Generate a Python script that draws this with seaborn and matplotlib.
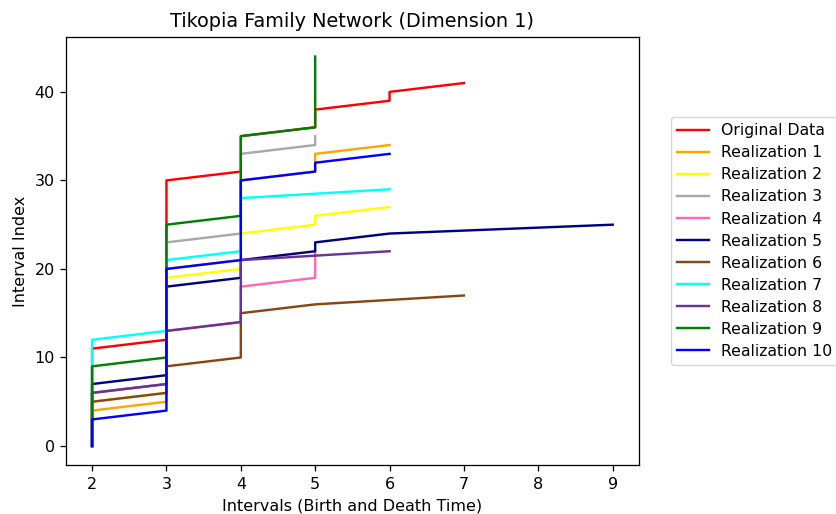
import numpy as np
import pandas as pd
import matplotlib
matplotlib.use("Agg")
import matplotlib.pyplot as plt
import seaborn as sns

# Time points (birth/death times) and how many sorted interval values fall on each
times = [2, 3, 4, 5, 6, 7, 9]

series_names = ["Original Data"] + [f"Realization {i}" for i in range(1, 11)]

original = [12, 19, 5, 3, 2, 1, 0]
real_1 = [5, 16, 10, 3, 1, 0, 0]
real_2 = [6, 14, 5, 2, 1, 0, 0]
real_3 = [7, 17, 10, 2, 0, 0, 0]
real_4 = [7, 7, 5, 4, 0, 0, 0]
real_5 = [8, 11, 3, 2, 1, 0, 1]
real_6 = [6, 4, 6, 1, 0, 1, 0]
real_7 = [13, 9, 7, 0, 1, 0, 0]
real_8 = [7, 7, 8, 0, 1, 0, 0]
real_9 = [10, 16, 10, 9, 0, 0, 0]
real_10 = [4, 17, 10, 2, 1, 0, 0]

counts = [original, real_1, real_2, real_3, real_4, real_5,
          real_6, real_7, real_8, real_9, real_10]

colors = ["red", "orange", "yellow", "darkgray", "hotpink", "navy",
          "saddlebrown", "cyan", "rebeccapurple", "green", "blue"]

rows = []
for name, cnt in zip(series_names, counts):
    xs = np.repeat(times, cnt)
    for i, xv in enumerate(xs):
        rows.append({"series": name, "x": xv, "idx": i})
df = pd.DataFrame(rows)

s = 1.155
plt.rcParams.update({
    "font.size": 10 * s,
    "axes.linewidth": 0.8 * s,
    "xtick.major.size": 3.5 * s,
    "ytick.major.size": 3.5 * s,
    "xtick.major.width": 0.8 * s,
    "ytick.major.width": 0.8 * s,
    "xtick.major.pad": 3.5 * s,
    "ytick.major.pad": 3.5 * s,
    "axes.labelpad": 4.0 * s,
    "axes.titlepad": 6.0 * s,
})

fig = plt.figure(figsize=(8.36, 5.14), dpi=100)
ax = fig.add_axes([0.079, 0.0944, 0.685, 0.8336])

sns.lineplot(data=df, x="x", y="idx", hue="series", hue_order=series_names,
             palette=dict(zip(series_names, colors)), sort=False,
             estimator=None, linewidth=1.5 * s, ax=ax)

handles, labels = ax.get_legend_handles_labels()
ax.get_legend().remove()
fig.legend(handles, labels, loc="upper left", bbox_to_anchor=(0.8026, 0.7724),
           borderaxespad=0, fontsize=11.3, labelspacing=0.45)

ax.set_title("Tikopia Family Network (Dimension 1)", fontsize=12 * s)
ax.set_xlabel("Intervals (Birth and Death Time)")
ax.set_ylabel("Interval Index")
ax.set_xticks([2, 3, 4, 5, 6, 7, 8, 9])
ax.set_yticks([0, 10, 20, 30, 40])

fig.savefig("out.png", dpi=100)
